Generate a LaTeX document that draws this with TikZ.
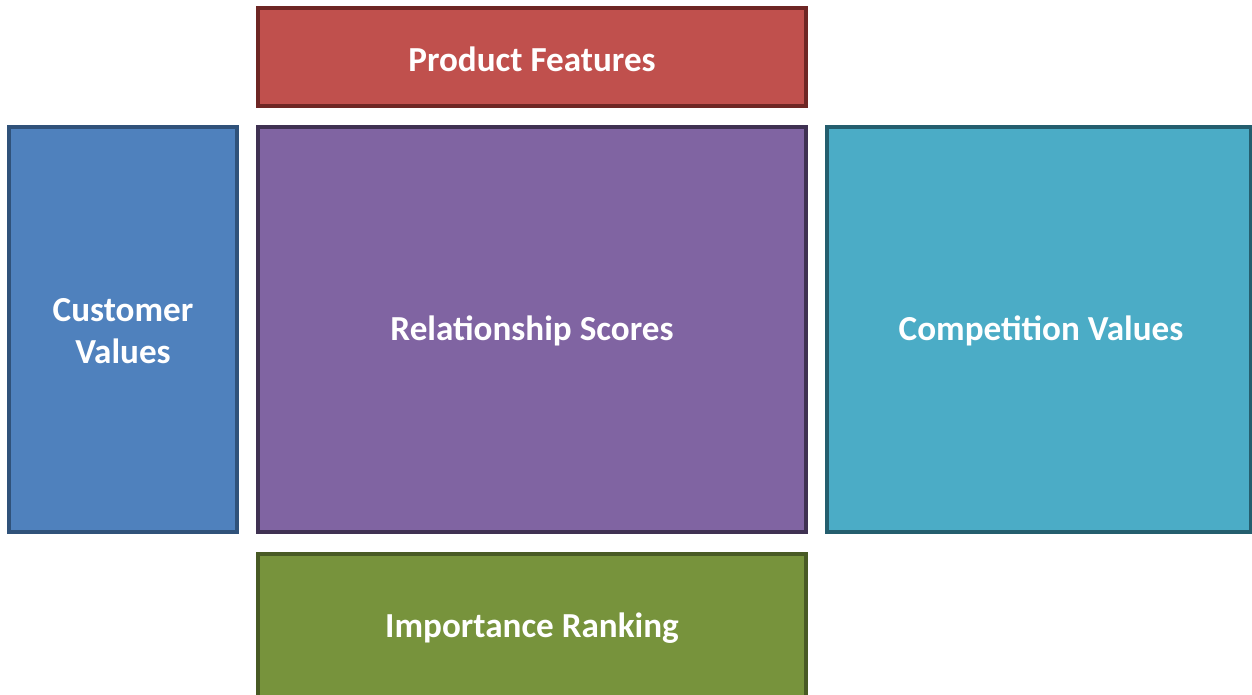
\documentclass[tikz,border=0pt]{standalone}
\usepackage{fontspec}
\setmainfont{Carlito}
\definecolor{featfill}{HTML}{C0504D}
\definecolor{featline}{HTML}{6E2624}
\definecolor{custfill}{HTML}{4F81BD}
\definecolor{custline}{HTML}{30527A}
\definecolor{relfill}{HTML}{8064A2}
\definecolor{relline}{HTML}{3F3152}
\definecolor{compfill}{HTML}{4BACC6}
\definecolor{compline}{HTML}{245E6E}
\definecolor{rankfill}{HTML}{77933C}
\definecolor{rankline}{HTML}{485A24}
\tikzset{
  panel/.style={line width=2pt, line join=miter},
  label/.style={text=white, font=\bfseries\fontsize{20}{24}\selectfont, align=center, inner sep=0pt}
}
\begin{document}
\begin{tikzpicture}[x=0.02cm, y=-0.02cm]
  \useasboundingbox (0,0) rectangle (1252,694);
  \clip (0,0) rectangle (1252,694);

  % top strip
  \draw[panel, fill=featfill, draw=featline] (258,8) rectangle (806,106);
  \node[label] (feat) at (532,59) {Product Features};

  % left column
  \draw[panel, fill=custfill, draw=custline] (9,127) rectangle (237,532);
  \node[label] (cust) at (123,331) {Customer\\Values};

  % centre matrix
  \draw[panel, fill=relfill, draw=relline] (258,127) rectangle (806,532);
  \node[label] (rel) at (532,331) {Relationship Scores};

  % right column, runs off the edge
  \draw[panel, fill=compfill, draw=compline] (827,127) rectangle (1251,532);
  \node[label] (comp) at (1041,331) {Competition Values};

  % bottom strip, runs off the edge
  \draw[panel, fill=rankfill, draw=rankline] (258,554) rectangle (806,702);
  \node[label] (rank) at (532,628) {Importance Ranking};
\end{tikzpicture}
\end{document}
